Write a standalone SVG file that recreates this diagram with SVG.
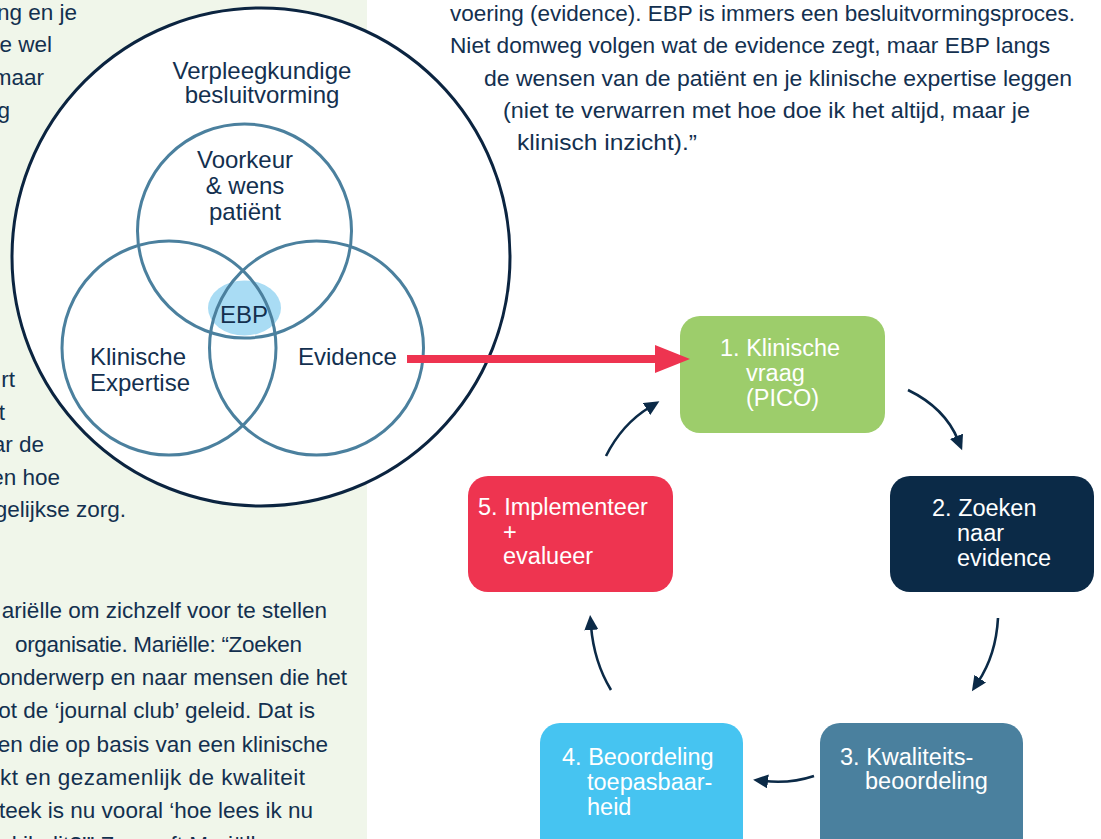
<svg xmlns="http://www.w3.org/2000/svg" width="1101" height="839" viewBox="0 0 1101 839">
<defs>
<style>
.para{font-family:"Liberation Sans",Arial,sans-serif;font-size:22.5px;fill:#13304f}
.venn{fill:none;stroke:#4b809e;stroke-width:3}
.vl{font-family:"Liberation Sans",Arial,sans-serif;font-size:24px;fill:#13304f}
.bt{font-family:"Liberation Sans",Arial,sans-serif;font-size:23.5px;fill:#ffffff}
.cyc{fill:none;stroke:#0b2a47;stroke-width:2.6}
</style>
<marker id="head" markerUnits="userSpaceOnUse" markerWidth="16" markerHeight="14" refX="4" refY="7" orient="auto">
<path d="M0,0 L15,7 L0,14 z" fill="#0b2a47"/>
</marker>
</defs>
<rect x="0" y="0" width="1101" height="839" fill="#ffffff"/>
<rect x="0" y="0" width="367" height="839" fill="#f0f6ea"/>

<g id="left-text">
<text class="para" x="77" y="20" text-anchor="end">ng en je</text>
<text class="para" x="52" y="52" text-anchor="end">e wel</text>
<text class="para" x="44" y="85" text-anchor="end">maar</text>
<text class="para" x="10" y="118" text-anchor="end">g</text>
<text class="para" x="15" y="387" text-anchor="end">rt</text>
<text class="para" x="5" y="420" text-anchor="end">t</text>
<text class="para" x="44" y="452" text-anchor="end">ar de</text>
<text class="para" x="60" y="485" text-anchor="end">en hoe</text>
<text class="para" x="126" y="517" text-anchor="end">gelijkse zorg.</text>
<text class="para" x="327" y="618" text-anchor="end">ariëlle om zichzelf voor te stellen</text>
<text class="para" x="15" y="652" textLength="287">organisatie. Mariëlle: “Zoeken</text>
<text class="para" x="347" y="685" text-anchor="end">onderwerp en naar mensen die het</text>
<text class="para" x="315" y="718" text-anchor="end">ot de ‘journal club’ geleid. Dat is</text>
<text class="para" x="328" y="752" text-anchor="end">en die op basis van een klinische</text>
<text class="para" x="0" y="785" textLength="305">kt en gezamenlijk de kwaliteit</text>
<text class="para" x="313" y="818" text-anchor="end">teek is nu vooral ‘hoe lees ik nu</text>
<text class="para" x="268" y="852" text-anchor="end">wat vind ik dit?’” Zo geeft Mariëlle</text>
</g>

<g id="right-text">
<text class="para" x="450" y="21" textLength="625" lengthAdjust="spacingAndGlyphs">voering (evidence). EBP is immers een besluitvormingsproces.</text>
<text class="para" x="450" y="53" textLength="600" lengthAdjust="spacingAndGlyphs">Niet domweg volgen wat de evidence zegt, maar EBP langs</text>
<text class="para" x="484" y="86" textLength="588" lengthAdjust="spacingAndGlyphs">de wensen van de patiënt en je klinische expertise leggen</text>
<text class="para" x="503" y="118" textLength="527" lengthAdjust="spacingAndGlyphs">(niet te verwarren met hoe doe ik het altijd, maar je</text>
<text class="para" x="517" y="150" textLength="180" lengthAdjust="spacingAndGlyphs">klinisch inzicht).”</text>
</g>

<g id="besluitvorming">
<circle cx="261" cy="257" r="249" fill="#ffffff" stroke="#0b2440" stroke-width="3"/>
<text class="vl" x="262" y="79" text-anchor="middle" font-size="25">Verpleegkundige</text>
<text class="vl" x="262" y="103" text-anchor="middle" font-size="25">besluitvorming</text>
</g>

<g id="ebp">
<ellipse cx="244.5" cy="308" rx="36.5" ry="27.5" fill="#a9dcf4"/>
<text class="vl" x="244" y="323" text-anchor="middle">EBP</text>
</g>

<g id="voorkeur">
<circle class="venn" cx="244.5" cy="231" r="107"/>
<text class="vl" x="245" y="168" text-anchor="middle">Voorkeur</text>
<text class="vl" x="245" y="194" text-anchor="middle">&amp; wens</text>
<text class="vl" x="245" y="220" text-anchor="middle">patiënt</text>
</g>

<g id="expertise">
<circle class="venn" cx="169" cy="348" r="107"/>
<text class="vl" x="90" y="365">Klinische</text>
<text class="vl" x="90" y="391">Expertise</text>
</g>

<g id="evidence">
<circle class="venn" cx="316.5" cy="348" r="107"/>
<text class="vl" x="298" y="365">Evidence</text>
</g>

<g id="step1">
<rect x="680" y="316" width="205" height="117" rx="20" fill="#9dcd6b"/>
<text class="bt" x="720" y="356">1. Klinische</text>
<text class="bt" x="746" y="381">vraag</text>
<text class="bt" x="746" y="406">(PICO)</text>
</g>

<g id="step2">
<rect x="890" y="476" width="204" height="116" rx="20" fill="#0b2a47"/>
<text class="bt" x="932" y="516">2. Zoeken</text>
<text class="bt" x="957" y="541">naar</text>
<text class="bt" x="957" y="566">evidence</text>
</g>

<g id="step3">
<rect x="820" y="723" width="203" height="136" rx="20" fill="#4a809e"/>
<text class="bt" x="840" y="765">3. Kwaliteits-</text>
<text class="bt" x="865" y="789">beoordeling</text>
</g>

<g id="step4">
<rect x="540" y="723" width="203" height="136" rx="20" fill="#46c4f1"/>
<text class="bt" x="562" y="765">4. Beoordeling</text>
<text class="bt" x="587" y="790">toepasbaar-</text>
<text class="bt" x="587" y="815">heid</text>
</g>

<g id="step5">
<rect x="468" y="476" width="205" height="116" rx="20" fill="#ee3450"/>
<text class="bt" x="478" y="515">5. Implementeer</text>
<text class="bt" x="503" y="540">+</text>
<text class="bt" x="503" y="564">evalueer</text>
</g>

<g id="connectors">
<line x1="407" y1="359" x2="657" y2="359" stroke="#ee3450" stroke-width="8"/>
<polygon points="655,345 690,359 655,373" fill="#ee3450"/>
<path class="cyc" d="M908,390 Q945,408 958,440" marker-end="url(#head)"/>
<path class="cyc" d="M998,618 Q996,655 978,682" marker-end="url(#head)"/>
<path class="cyc" d="M814,776 Q790,784 764,781" marker-end="url(#head)"/>
<path class="cyc" d="M611,690 Q594,662 591,626" marker-end="url(#head)"/>
<path class="cyc" d="M606,456 Q622,424 650,407" marker-end="url(#head)"/>
</g>
</svg>
